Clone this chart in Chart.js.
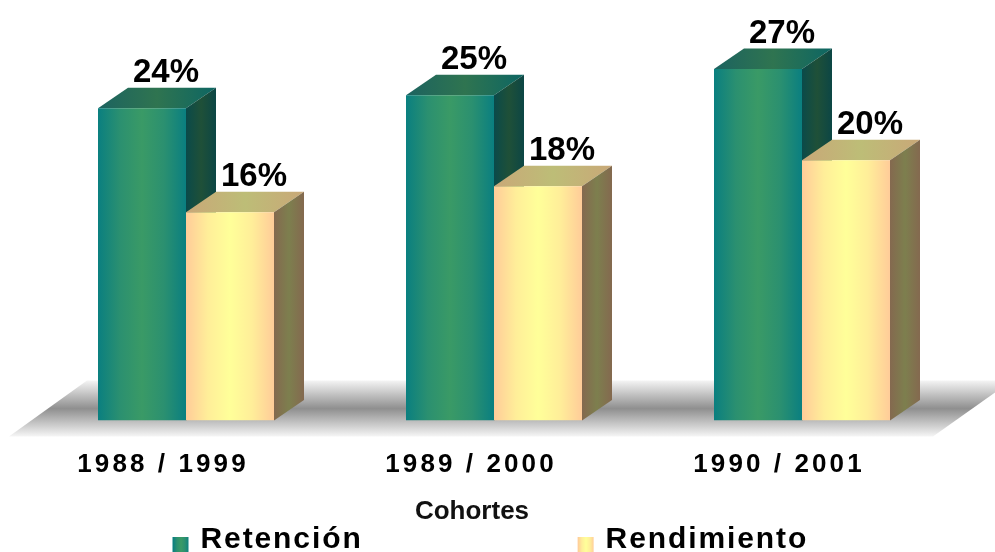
<!DOCTYPE html>
<html><head><meta charset="utf-8">
<style>html,body{margin:0;padding:0;background:#fff;overflow:hidden}canvas{display:block}</style>
<script src="https://cdn.jsdelivr.net/npm/chart.js@4"></script>
</head><body>
<canvas id="c" width="995" height="552"></canvas>
<script>
const categories = ['1988 / 1999', '1989 / 2000', '1990 / 2001'];
const retencion = [24, 25, 27];
const rendimiento = [16, 18, 20];
const axisTitle = 'Cohortes';
const seriesNames = ['Retención', 'Rendimiento'];

const DEPTH_X = 30, DEPTH_Y = 20.5;
const FONT = '"Liberation Sans", Arial, sans-serif';
const CAT_PCT = 176 / 308;
const LEGEND_PAD = 218, LEGEND_SP = '1.9px';

const palettes = [
  { front: ['#0a7f80', '#2b9070', '#3a9a66', '#2b9070', '#0a7f80'], top: ['#1c6360', '#2f7450', '#0d6663'], side: ['#0a4a4a', '#1f5038', '#0c4645'] },
  { front: ['#ffcc99', '#ffee99', '#ffff99', '#ffee99', '#ffcc99'], top: ['#c9a878', '#bdbd77', '#c9a878'], side: ['#84694f', '#7d7f4e', '#84694f'] }
];

function hGrad(ctx, x0, x1, stops) {
  const g = ctx.createLinearGradient(x0, 0, x1, 0);
  stops.forEach((c, i) => g.addColorStop(i / (stops.length - 1), c));
  return g;
}
function barSpan(chart, dsIndex, i) {
  const sx = chart.scales.x;
  const w = sx.width / categories.length * CAT_PCT / 2;
  const left = sx.getPixelForTick(i) + (dsIndex - 1) * w;
  return [left, left + w];
}
function frontFill(c) {
  const chart = c.chart;
  if (!chart.scales.x || !chart.chartArea) return palettes[c.datasetIndex].front[0];
  const [a, b] = barSpan(chart, c.datasetIndex, c.dataIndex);
  return hGrad(chart.ctx, a, b, palettes[c.datasetIndex].front);
}
function legendFill(chart, i, shift) {
  const a = (i === 0 ? 173 : 578) - shift;
  return hGrad(chart.ctx, a, a + 16, palettes[i].front);
}

const threeD = {
  id: 'threeD',
  beforeUpdate(chart) {
    const lg = chart.legend;
    if (lg && !lg._patched) {
      lg._patched = true;
      const fit = lg.fit.bind(lg);
      lg.fit = function () {
        chart.ctx.letterSpacing = LEGEND_SP;
        lg.maxWidth = 5000;
        fit();
        lg.height = 31;
        chart.ctx.letterSpacing = '0px';
      };
      lg.draw = function () {
        const ctx = chart.ctx, h = chart.height, w = chart.width;
        const dx = 175.5 - lg.left - LEGEND_PAD, dy = 524.5 - lg.top - LEGEND_PAD;
        const right = lg.right;
        lg.right = 5000;
        lg.legendItems.forEach((it, i) => { it.fillStyle = it.strokeStyle = legendFill(chart, i, dx); });
        // boxes sit lower than the text line, as in the reference
        ctx.save();
        ctx.letterSpacing = LEGEND_SP;
        ctx.beginPath(); ctx.rect(0, 0, 195, h); ctx.rect(560, 0, 40, h); ctx.clip();
        ctx.translate(dx, dy + 5.5);
        lg._draw();
        ctx.restore();
        ctx.save();
        ctx.letterSpacing = LEGEND_SP;
        ctx.beginPath(); ctx.rect(195, 0, 365, h); ctx.rect(600, 0, w - 600, h); ctx.clip();
        ctx.translate(dx, dy);
        lg._draw();
        ctx.restore();
        lg.right = right;
      };
    }
  },
  beforeDraw(chart) {
    const sx = chart.scales.x;
    if (!sx._patched) {
      sx._patched = true;
      const dl = sx.drawLabels.bind(sx), dt = sx.drawTitle.bind(sx);
      sx.drawLabels = function (a) { chart.ctx.letterSpacing = '3.1px'; dl(a); chart.ctx.letterSpacing = '0px'; };
      sx.drawTitle = function () {
        const ctx = chart.ctx;
        ctx.save(); ctx.translate(-22, 0); dt(); ctx.restore();
      };
    }
  },
  beforeDatasetsDraw(chart) {
    const ctx = chart.ctx, area = chart.chartArea, y0 = chart.scales.y.getPixelForValue(0);
    const fy0 = y0 - 40, fy1 = y0 + 16;
    const g = ctx.createLinearGradient(0, fy0, 0, fy1);
    g.addColorStop(0, '#f4f4f4');
    g.addColorStop(0.5, '#8f8f8f');
    g.addColorStop(1, '#f6f6f6');
    ctx.save();
    ctx.beginPath();
    ctx.moveTo(area.left - 23, fy1);
    ctx.lineTo(area.left + 55, fy0);
    ctx.lineTo(chart.width, fy0);
    ctx.lineTo(chart.width, fy0 + 12);
    ctx.lineTo(area.right - 23, fy1);
    ctx.closePath();
    ctx.fillStyle = g;
    ctx.fill();
    [0, 1].forEach(ds => {
      chart.getDatasetMeta(ds).data.forEach((el, i) => {
        const l = el.x - el.width / 2, r = el.x + el.width / 2, t = el.y, b = el.base;
        const p = palettes[ds];
        ctx.fillStyle = hGrad(ctx, l, r + DEPTH_X, p.top);
        ctx.beginPath();
        ctx.moveTo(l, t); ctx.lineTo(l + DEPTH_X, t - DEPTH_Y); ctx.lineTo(r + DEPTH_X, t - DEPTH_Y); ctx.lineTo(r, t);
        ctx.closePath(); ctx.fill();
        ctx.fillStyle = hGrad(ctx, r, r + DEPTH_X, p.side);
        ctx.beginPath();
        ctx.moveTo(r, t); ctx.lineTo(r + DEPTH_X, t - DEPTH_Y); ctx.lineTo(r + DEPTH_X, b - DEPTH_Y); ctx.lineTo(r, b);
        ctx.closePath(); ctx.fill();
      });
    });
    ctx.restore();
  },
  afterDatasetsDraw(chart) {
    const ctx = chart.ctx;
    ctx.save();
    ctx.font = 'bold 33px ' + FONT;
    ctx.fillStyle = '#000';
    ctx.textAlign = 'center';
    ctx.textBaseline = 'alphabetic';
    [0, 1].forEach(ds => {
      const vals = chart.data.datasets[ds].data;
      chart.getDatasetMeta(ds).data.forEach((el, i) => {
        ctx.fillText(vals[i] + '%', el.x + 24, el.y - 26);
      });
    });
    ctx.restore();
  }
};

new Chart(document.getElementById('c'), {
  type: 'bar',
  data: {
    labels: categories,
    datasets: [
      { label: seriesNames[0], data: retencion, backgroundColor: frontFill, borderWidth: 0 },
      { label: seriesNames[1], data: rendimiento, backgroundColor: frontFill, borderWidth: 0 }
    ]
  },
  options: {
    responsive: false,
    animation: false,
    devicePixelRatio: 1,
    layout: { padding: { left: 32, right: 39, top: 4, bottom: -6 } },
    datasets: { bar: { categoryPercentage: CAT_PCT, barPercentage: 1 } },
    scales: {
      x: {
        grid: { display: false },
        border: { display: false },
        ticks: { color: '#000', maxRotation: 0, autoSkip: false, padding: 21, labelOffset: -23, font: { family: FONT, size: 26, weight: 'bold' } },
        title: { display: true, text: axisTitle, color: '#111', padding: { top: -6, bottom: 0 }, font: { family: FONT, size: 26, weight: 'bold' } }
      },
      y: { display: false, min: 0, max: 32 }
    },
    plugins: {
      tooltip: { enabled: false },
      legend: {
        position: 'bottom',
        align: 'start',
        labels: {
          color: '#000',
          boxWidth: 10, boxHeight: 10, padding: LEGEND_PAD,
          font: { family: FONT, size: 30, weight: 'bold' },
          generateLabels(chart) {
            return chart.data.datasets.map((d, i) => {
              const f = legendFill(chart, i, 0);
              return { text: d.label, fillStyle: f, strokeStyle: f, lineWidth: 6, lineJoin: 'miter', datasetIndex: i, hidden: false };
            });
          }
        }
      }
    }
  },
  plugins: [threeD]
});
</script>
</body></html>
